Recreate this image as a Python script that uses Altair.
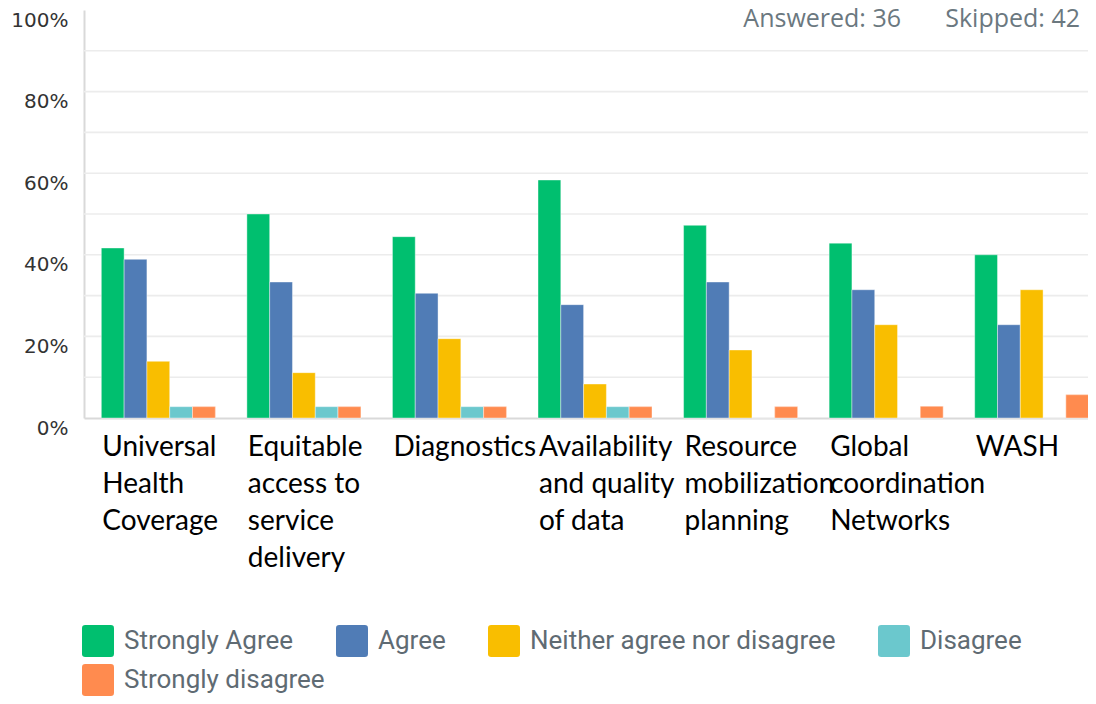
import altair as alt
import pandas as pd

categories = [
    "Universal Health Coverage",
    "Equitable access to service delivery",
    "Diagnostics",
    "Availability and quality of data",
    "Resource mobilization planning",
    "Global coordination Networks",
    "WASH",
]
category_lines = [
    ["Universal", "Health", "Coverage"],
    ["Equitable", "access to", "service", "delivery"],
    ["Diagnostics"],
    ["Availability", "and quality", "of data"],
    ["Resource", "mobilization", "planning"],
    ["Global", "coordination", "Networks"],
    ["WASH"],
]
responses = [
    "Strongly Agree",
    "Agree",
    "Neither agree nor disagree",
    "Disagree",
    "Strongly disagree",
]
colors = ["#00BF6F", "#507CB6", "#F9BE00", "#6BC8CD", "#FF8B4F"]

strongly_agree = [41.67, 50.00, 44.44, 58.33, 47.22, 42.86, 40.00]
agree = [38.89, 33.33, 30.56, 27.78, 33.33, 31.43, 22.86]
neither = [13.89, 11.11, 19.44, 8.33, 16.67, 22.86, 31.43]
disagree = [2.78, 2.78, 2.78, 2.78, 0.0, 0.0, 0.0]
strongly_disagree = [2.78, 2.78, 2.78, 2.78, 2.78, 2.86, 5.71]

grid_values = [10, 20, 30, 40, 50, 60, 70, 80, 90]
y_tick_values = [0, 20, 40, 60, 80, 100]
answered_text = ["Answered: 36"]
skipped_text = ["Skipped: 42"]

series = [strongly_agree, agree, neither, disagree, strongly_disagree]
rows = []
for resp, vals in zip(responses, series):
    for cat, v in zip(categories, vals):
        rows.append({"category": cat, "response": resp, "value": v})
df = pd.DataFrame(rows)

# label expression: category -> list of lines
expr = "''"
for cat, lines in reversed(list(zip(categories, category_lines))):
    arr = "[" + ",".join("'" + l + "'" for l in lines) + "]"
    expr = f"datum.label == '{cat}' ? {arr} : ({expr})"

rounded_square = ("M-1,-0.8 Q-1,-1 -0.8,-1 L0.8,-1 Q1,-1 1,-0.8 L1,0.8 "
                  "Q1,1 0.8,1 L-0.8,1 Q-1,1 -1,0.8 Z")

y_scale = alt.Scale(domain=[0, 100])
y_axis = alt.Axis(
    title=None,
    values=y_tick_values,
    labelExpr="datum.value + '%'",
    grid=False,
    ticks=False,
    domainColor="#d9d9d9",
    domainWidth=2,
    labelFont="DejaVu Sans",
    labelFontSize=20,
    labelColor="#333333",
    labelPadding=16,
    labelOffset=10,
)
x_scale = alt.Scale(domain=categories, paddingInner=0.217, paddingOuter=0.119)
x_axis = alt.Axis(
    title=None,
    labelExpr=expr,
    labelAlign="left",
    labelOffset=-56,
    labelBaseline="alphabetic",
    labelPadding=37,
    labelLineHeight=37,
    labelFont="Lato",
    labelFontSize=28,
    labelColor="#000000",
    labelAngle=0,
    labelOverlap=False,
    labelBound=False,
    labelLimit=400,
    ticks=False,
    grid=False,
    domainColor="#d9d9d9",
    domainWidth=2,
)
xoff = alt.XOffset(
    "response:N",
    scale=alt.Scale(domain=responses, paddingInner=0, paddingOuter=0),
)

legend_common = dict(
    title=None,
    orient="none",
    legendX=-2,
    direction="horizontal",
    columnPadding=42,
    symbolType=rounded_square,
    symbolSize=1024,
    symbolStrokeWidth=0,
    symbolOpacity=1,
    labelFont="Roboto",
    labelFontSize=26,
    labelColor="#5f6b73",
    labelOffset=10,
    labelLimit=600,
    padding=0,
)

grid = alt.Chart(pd.DataFrame({"g": grid_values})).mark_rule(
    color="#ececec", strokeWidth=1.6
).encode(y=alt.Y("g:Q", scale=y_scale, axis=y_axis))

bars = alt.Chart(df).mark_bar(
    stroke="#ffffff", strokeOpacity=0.4, strokeWidth=1
).encode(
    x=alt.X("category:N", scale=x_scale, axis=x_axis),
    xOffset=xoff,
    y=alt.Y("value:Q", scale=y_scale, axis=y_axis),
    color=alt.Color(
        "response:N",
        scale=alt.Scale(domain=responses, range=colors),
        legend=alt.Legend(values=responses[:4], legendY=615, **legend_common),
    ),
)

# second legend row ("Strongly disagree"), drawn over the same bars
last_bars = alt.Chart(df).transform_filter(
    alt.datum.response == responses[4]
).mark_bar(
    stroke="#ffffff", strokeOpacity=0.4, strokeWidth=1
).encode(
    x=alt.X("category:N", scale=x_scale, axis=x_axis),
    xOffset=xoff,
    y=alt.Y("value:Q", scale=y_scale, axis=y_axis),
    color=alt.Color(
        "response:N",
        scale=alt.Scale(domain=responses[4:], range=colors[4:]),
        legend=alt.Legend(legendY=654, **legend_common),
    ),
)

answered = alt.Chart(pd.DataFrame({"t": answered_text})).mark_text(
    align="right", baseline="alphabetic", font="Open Sans", fontSize=25,
    color="#6b787f"
).encode(text="t:N", x=alt.value(817), y=alt.value(17))

skipped = alt.Chart(pd.DataFrame({"t": skipped_text})).mark_text(
    align="right", baseline="alphabetic", font="Open Sans", fontSize=25,
    color="#6b787f"
).encode(text="t:N", x=alt.value(996), y=alt.value(17))

chart = alt.layer(grid, bars, last_bars, answered, skipped).resolve_scale(
    color="independent"
).properties(
    width=1022,
    height=408,
    autosize=alt.AutoSizeParams(type="none"),
    padding={"left": 76, "top": 2, "right": -18, "bottom": 278},
).configure_view(stroke=None)

chart.save("out.html", embed_options={"renderer": "svg", "actions": False})
